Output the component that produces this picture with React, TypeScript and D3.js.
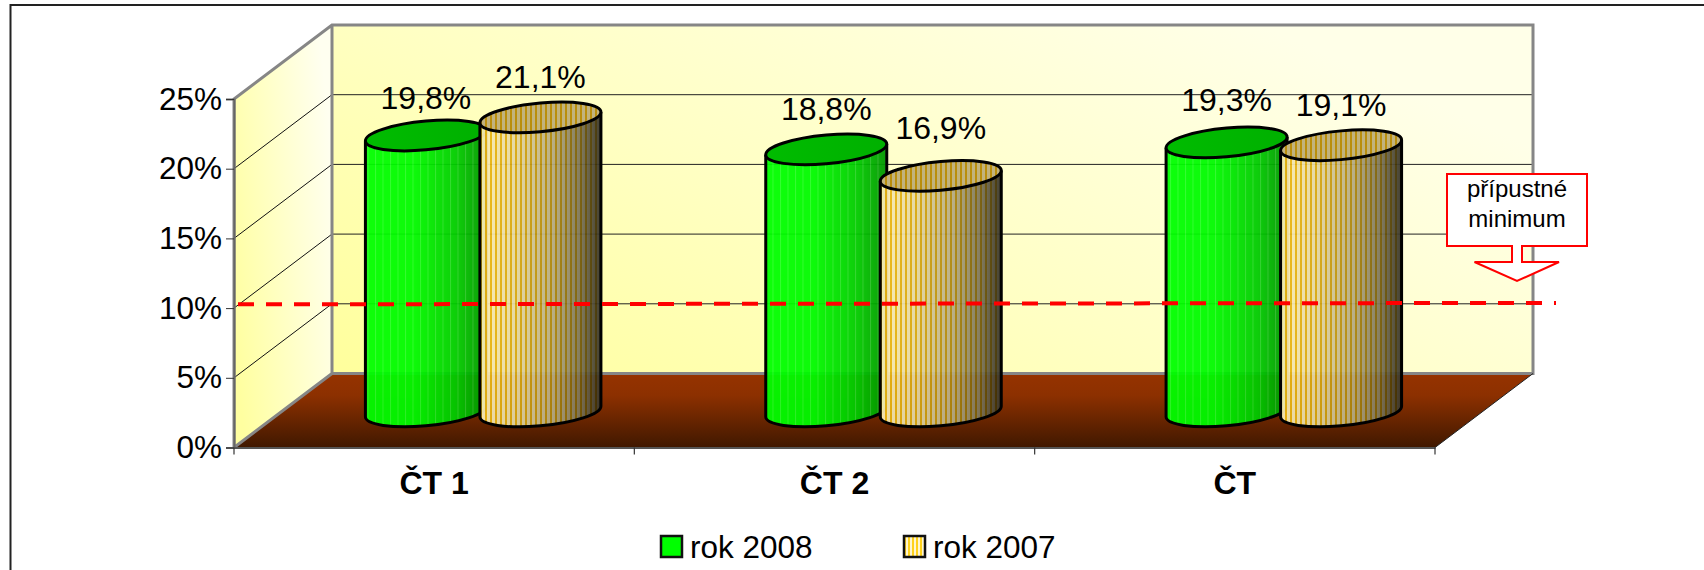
import React, { useEffect, useRef } from 'react';
import * as d3 from 'd3';

const categories = ['ČT 1', 'ČT 2', 'ČT'];
const seriesNames = ['rok 2008', 'rok 2007'];
const rok2008 = [19.8, 18.8, 19.3];
const rok2007 = [21.1, 16.9, 19.1];
const yTicks = [0, 5, 10, 15, 20, 25];
const minimumLine = [10.27, 10.37];

const FONT = '"Liberation Sans", Arial, sans-serif';
const depthX = 98;
const depthY = 74;

const App = () => {
    const ref = useRef<SVGSVGElement>(null);

    useEffect(() => {
        const svg = d3.select(ref.current);
        svg.selectAll('*').remove();

        const x = d3.scaleBand<string>().domain(categories).range([234, 1435]);
        const inner = d3.scaleBand<string>().domain(seriesNames).range([-114.5, 114.5]);
        const y = d3.scaleLinear().domain([0, 25]).range([447.5, 99]);
        const x0 = x.range()[0];
        const x1 = x.range()[1];
        const y0 = y(0);
        const yTop = y(25);

        // gradients and stripes
        const defs = svg.append('defs');
        const gradient = (id: string, stops: [number, string][], dir = [0, 0, 1, 0]) => {
            const g = defs.append('linearGradient').attr('id', id)
                .attr('x1', dir[0]).attr('y1', dir[1]).attr('x2', dir[2]).attr('y2', dir[3]);
            stops.forEach(s => g.append('stop').attr('offset', s[0]).attr('stop-color', s[1]));
        };
        gradient('backWall', [[0, '#ffff9c'], [0.5, '#ffffc4'], [1, '#ffffe8']], [0, 1, 1, 0.35]);
        gradient('sideWall', [[0, '#ffffa0'], [1, '#fffff0']], [0, 0.75, 1, 0.3]);
        gradient('floor', [[0, '#963300'], [0.3, '#8c3000'], [1, '#401800']], [0, 0, 0, 1]);
        gradient('greenBody', [[0, '#00ff00'], [0.4, '#00fa00'], [0.75, '#00cc00'], [1, '#009400']]);
        gradient('greenTop', [[0, '#00bc00'], [1, '#00b000']]);

        const shade = defs.append('linearGradient').attr('id', 'goldShade');
        [[0, 0], [0.3, 0.1], [0.6, 0.28], [0.82, 0.5], [1, 0.78]].forEach(s =>
            shade.append('stop').attr('offset', s[0]).attr('stop-color', '#000').attr('stop-opacity', s[1]));

        const goldPattern = defs.append('pattern').attr('id', 'goldStripes')
            .attr('patternUnits', 'userSpaceOnUse').attr('width', 5).attr('height', 10);
        goldPattern.append('rect').attr('width', 5).attr('height', 10).attr('fill', '#fdeeb4');
        goldPattern.append('rect').attr('width', 2).attr('height', 10).attr('fill', '#efb914');

        const greenPattern = defs.append('pattern').attr('id', 'greenStripes')
            .attr('patternUnits', 'userSpaceOnUse').attr('width', 7.5).attr('height', 10);
        greenPattern.append('rect').attr('width', 1).attr('height', 10).attr('fill', '#fff').attr('opacity', 0.16);

        const legendPattern = defs.append('pattern').attr('id', 'legendStripes')
            .attr('patternUnits', 'userSpaceOnUse').attr('width', 4).attr('height', 10);
        legendPattern.append('rect').attr('width', 4).attr('height', 10).attr('fill', '#fff6d0');
        legendPattern.append('rect').attr('width', 2).attr('height', 10).attr('fill', '#ffd21c');

        // outer frame
        svg.append('path').attr('d', 'M10.5,570V5H1704').attr('fill', 'none')
            .attr('stroke', '#222').attr('stroke-width', 2);

        // walls and floor
        svg.append('rect').attr('x', x0 + depthX).attr('y', yTop - depthY)
            .attr('width', x1 - x0).attr('height', y0 - yTop).attr('fill', 'url(#backWall)');
        svg.append('path')
            .attr('d', `M${x0},${y0}V${yTop}L${x0 + depthX},${yTop - depthY}V${y0 - depthY}Z`)
            .attr('fill', 'url(#sideWall)');
        svg.append('path')
            .attr('d', `M${x0},${y0}H${x1}L${x1 + depthX},${y0 - depthY}H${x0 + depthX}Z`)
            .attr('fill', 'url(#floor)');

        yTicks.filter(t => t > 0 && t < 25).forEach(t => {
            const yy = y(t);
            svg.append('line').attr('x1', x0 + depthX).attr('x2', x1 + depthX)
                .attr('y1', yy - depthY).attr('y2', yy - depthY)
                .attr('stroke', '#222').attr('stroke-width', 1);
            svg.append('line').attr('x1', x0).attr('x2', x0 + depthX)
                .attr('y1', yy).attr('y2', yy - depthY)
                .attr('stroke', '#111').attr('stroke-width', 1);
        });

        svg.append('path')
            .attr('d', `M${x0},${y0}V${yTop}L${x0 + depthX},${yTop - depthY}H${x1 + depthX}V${y0 - depthY}H${x0 + depthX}V${yTop - depthY}M${x0 + depthX},${y0 - depthY}L${x0},${y0}`)
            .attr('fill', 'none').attr('stroke', '#868686').attr('stroke-width', 3);
        svg.append('line').attr('x1', x1).attr('x2', x1 + depthX).attr('y1', y0).attr('y2', y0 - depthY)
            .attr('stroke', '#222').attr('stroke-width', 1);

        // axes
        const yAxis = svg.append('g').attr('transform', `translate(${x0},0)`)
            .call(d3.axisLeft(y).tickValues(yTicks).tickSize(8).tickPadding(4).tickFormat(d => `${d}%`));
        yAxis.select('.domain').attr('stroke', '#666').attr('stroke-width', 2);
        yAxis.selectAll('.tick line').attr('stroke', '#333');
        yAxis.selectAll('text').attr('font-family', FONT).attr('font-size', 31.5).attr('fill', '#000');

        const xAxis = svg.append('g').attr('transform', `translate(0,${y0})`)
            .call(d3.axisBottom(x).tickSize(0).tickPadding(24));
        xAxis.select('.domain').attr('stroke', '#555').attr('stroke-width', 2);
        xAxis.selectAll('text').attr('font-family', FONT).attr('font-size', 32)
            .attr('font-weight', 700).attr('fill', '#000');
        [...categories.map(c => x(c) as number), x1].forEach(px => {
            svg.append('line').attr('x1', px).attr('x2', px).attr('y1', y0).attr('y2', y0 + 7)
                .attr('stroke', '#333').attr('stroke-width', 1.2);
        });

        // cylinders
        const W = 60.5;
        const tip = 5.35;
        const a = 60.75;
        const b = 14.3;
        const tilt = -5.35;
        const baseY = y0 - depthY / 2 + 1;
        const unit = y(0) - y(1);
        const top = (cx: number, cy: number) =>
            `M${cx - W},${cy + tip}A${a},${b} ${tilt} 1 1 ${cx + W},${cy - tip}A${a},${b} ${tilt} 1 1 ${cx - W},${cy + tip}Z`;
        const body = (cx: number, cy: number) =>
            `M${cx - W},${cy + tip}V${baseY + tip}A${a},${b} ${tilt} 0 0 ${cx + W},${baseY - tip}V${cy - tip}`;

        const labelLift = [[-26, -29], [-29, -37], [-31, -29]];

        categories.forEach((cat, i) => {
            const centre = (x(cat) as number) + x.bandwidth() / 2 + depthX / 2;
            [rok2008[i], rok2007[i]].forEach((v, s) => {
                const cx = centre + (inner(seriesNames[s]) as number) + inner.bandwidth() / 2;
                const cy = baseY - v * unit;
                const g = svg.append('g');
                const fills = g.append('g').attr('opacity', 0.94);
                if (s === 0) {
                    fills.append('path').attr('d', body(cx, cy)).attr('fill', 'url(#greenBody)');
                    fills.append('path').attr('d', body(cx, cy)).attr('fill', 'url(#greenStripes)');
                } else {
                    fills.append('path').attr('d', body(cx, cy)).attr('fill', 'url(#goldStripes)');
                    fills.append('path').attr('d', body(cx, cy)).attr('fill', 'url(#goldShade)');
                }
                g.append('path').attr('d', body(cx, cy)).attr('fill', 'none')
                    .attr('stroke', '#000').attr('stroke-width', 3);
                if (s === 0) {
                    g.append('path').attr('d', top(cx, cy)).attr('fill', 'url(#greenTop)');
                } else {
                    g.append('path').attr('d', top(cx, cy)).attr('fill', 'url(#goldStripes)');
                    g.append('path').attr('d', top(cx, cy)).attr('fill', '#3c2c00').attr('opacity', 0.3);
                }
                g.append('path').attr('d', top(cx, cy)).attr('fill', 'none')
                    .attr('stroke', '#000').attr('stroke-width', 3);
            });
        });

        // data labels above everything else
        categories.forEach((cat, i) => {
            const centre = (x(cat) as number) + x.bandwidth() / 2 + depthX / 2;
            [rok2008[i], rok2007[i]].forEach((v, s) => {
                const cx = centre + (inner(seriesNames[s]) as number) + inner.bandwidth() / 2;
                svg.append('text').attr('x', cx).attr('y', baseY - v * unit + labelLift[i][s])
                    .attr('text-anchor', 'middle').attr('font-family', FONT).attr('font-size', 32)
                    .text(`${String(v).replace('.', ',')}%`);
            });
        });

        // dashed minimum line, on top of the columns
        svg.append('line').attr('x1', 238).attr('x2', 1556)
            .attr('y1', y(minimumLine[0])).attr('y2', y(minimumLine[1]))
            .attr('stroke', '#ff0000').attr('stroke-width', 4).attr('stroke-dasharray', '16 12');

        // callout
        svg.append('path')
            .attr('d', 'M1447,174H1587V246H1522V262H1559L1517,281L1474.5,262H1512V246H1447Z')
            .attr('fill', '#fff').attr('stroke', '#ff0000').attr('stroke-width', 2);
        [['přípustné', 197], ['minimum', 227]].forEach(([t, yy]) => {
            svg.append('text').attr('x', 1517).attr('y', yy).attr('text-anchor', 'middle')
                .attr('font-family', FONT).attr('font-size', 24).text(t);
        });

        // legend
        seriesNames.forEach((name, i) => {
            const lx = i === 0 ? 661 : 904;
            svg.append('rect').attr('x', lx).attr('y', 536).attr('width', 21).attr('height', 21)
                .attr('fill', i === 0 ? '#00ff00' : 'url(#legendStripes)')
                .attr('stroke', '#111').attr('stroke-width', 2.5);
            svg.append('text').attr('x', lx + 29).attr('y', 558).attr('font-family', FONT)
                .attr('font-size', 31.5).text(name);
        });
    }, []);

    return (
        <svg ref={ref} width={1704} height={570}
            style={{ position: 'absolute', left: 0, top: 0, background: '#fff' }} />
    );
};

export default App;
